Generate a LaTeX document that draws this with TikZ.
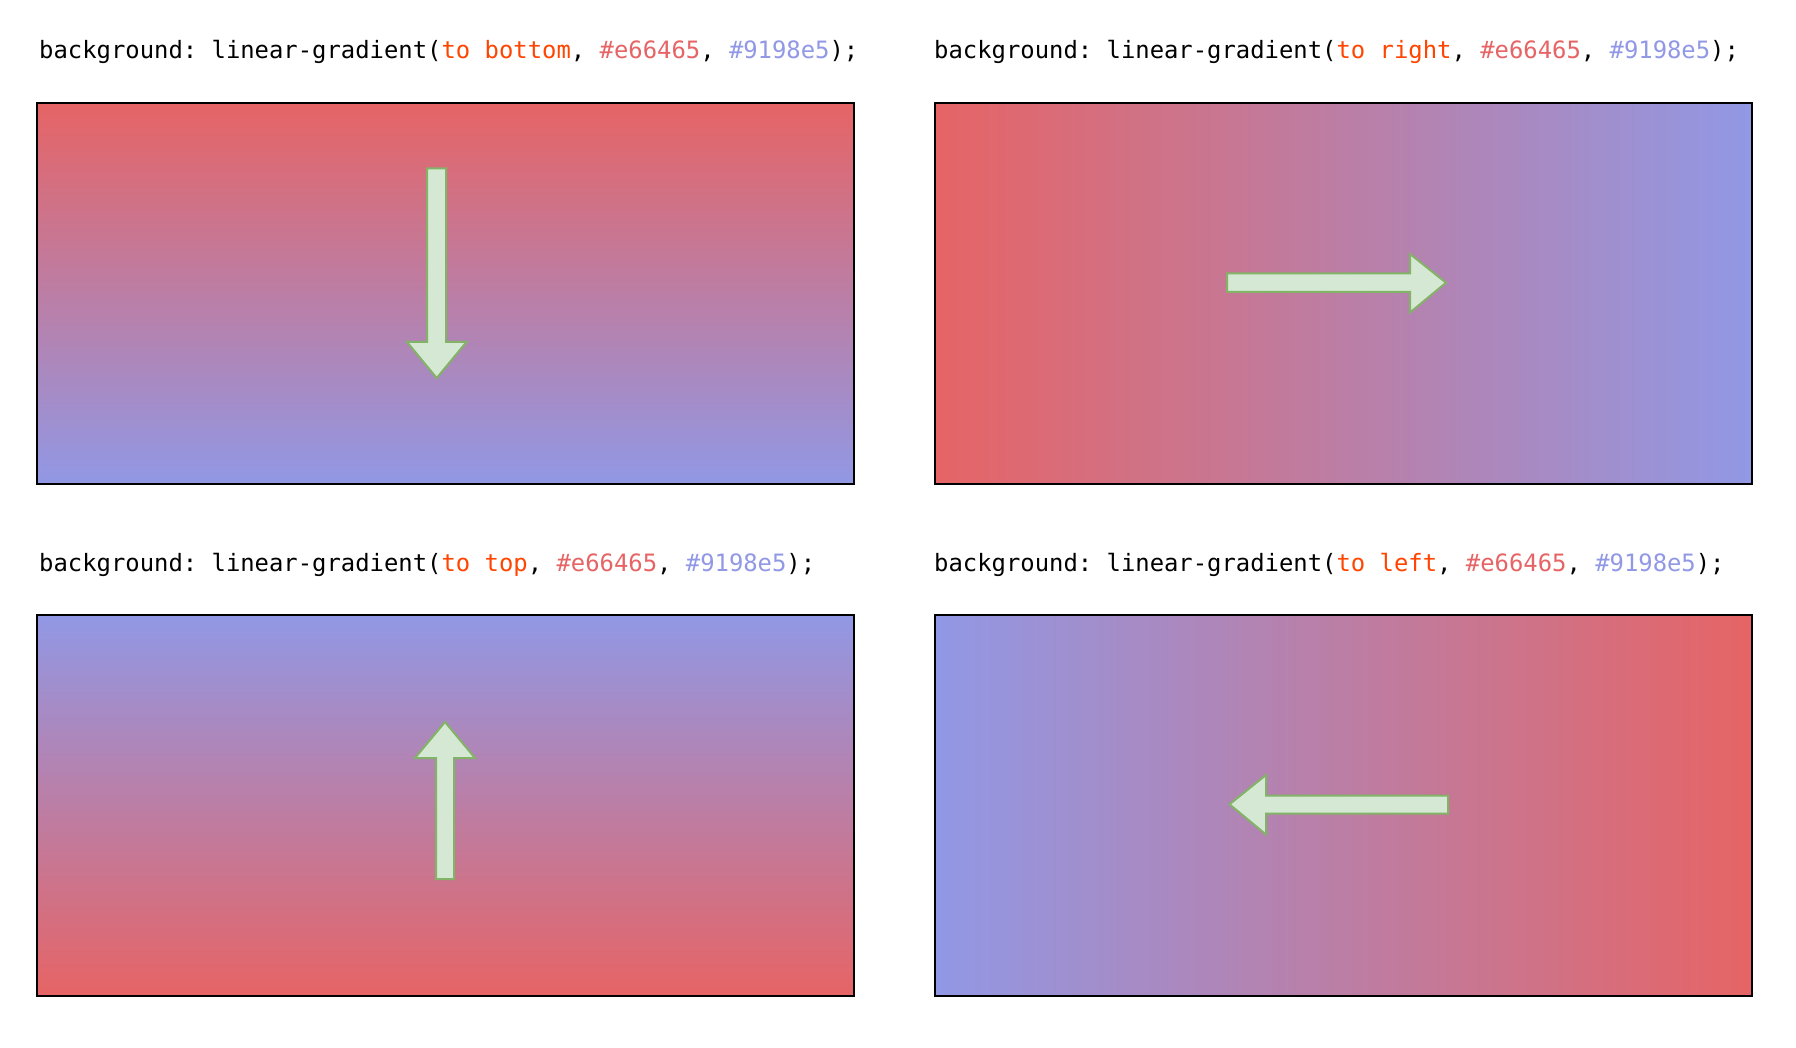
\documentclass[tikz,border=0pt]{standalone}
\usepackage{fontspec}
\setmonofont{DejaVu Sans Mono}
\definecolor{cRed}{HTML}{E66465}
\definecolor{cBlue}{HTML}{9198E5}
\definecolor{kw}{HTML}{FF4500}
\definecolor{arrFill}{HTML}{D5E8D4}
\definecolor{arrDraw}{HTML}{82B366}
\tikzset{
  gbox/.style={draw=black, line width=2.5pt, rectangle, minimum width=817pt, minimum height=381pt, anchor=north west, inner sep=0pt, outer sep=0pt},
  code/.style={anchor=base west, inner sep=0pt, font=\ttfamily\fontsize{23.87}{28}\selectfont, text=black},
  arrowshape/.style={fill=arrFill, draw=arrDraw, line width=2pt, line join=miter}
}
\newcommand{\codeline}[1]{background: linear-gradient({\color{kw}#1}, {\color{cRed}\#e66465}, {\color{cBlue}\#9198e5});}
\begin{document}
\begin{tikzpicture}[x=1pt,y=-1pt]
\useasboundingbox[fill=white] (0,0) rectangle (1796,1048);
% labels
\node[code] (t1) at (39,59) {\codeline{to bottom}};
\node[code] (t2) at (934,59) {\codeline{to right}};
\node[code] (t3) at (39,571) {\codeline{to top}};
\node[code] (t4) at (934,571) {\codeline{to left}};
% boxes
\node[gbox, top color=cRed, bottom color=cBlue] (b1) at (37,103) {};
\node[gbox, left color=cRed, right color=cBlue] (b2) at (935,103) {};
\node[gbox, top color=cBlue, bottom color=cRed] (b3) at (37,615) {};
\node[gbox, left color=cBlue, right color=cRed] (b4) at (935,615) {};
% arrows
\draw[arrowshape] (427,168.5) -- (446,168.5) -- (446,342) -- (466.5,342) -- (436.7,378) -- (407,342) -- (427,342) -- cycle;
\draw[arrowshape] (1227,273.5) -- (1410,273.5) -- (1410,254) -- (1446,282.7) -- (1410,312.5) -- (1410,292) -- (1227,292) -- cycle;
\draw[arrowshape] (436,879) -- (454,879) -- (454,758) -- (475,758) -- (445,722) -- (415,758) -- (436,758) -- cycle;
\draw[arrowshape] (1448,795.5) -- (1266,795.5) -- (1266,775) -- (1229.5,804.3) -- (1266,834.5) -- (1266,813.5) -- (1448,813.5) -- cycle;
\end{tikzpicture}
\end{document}
